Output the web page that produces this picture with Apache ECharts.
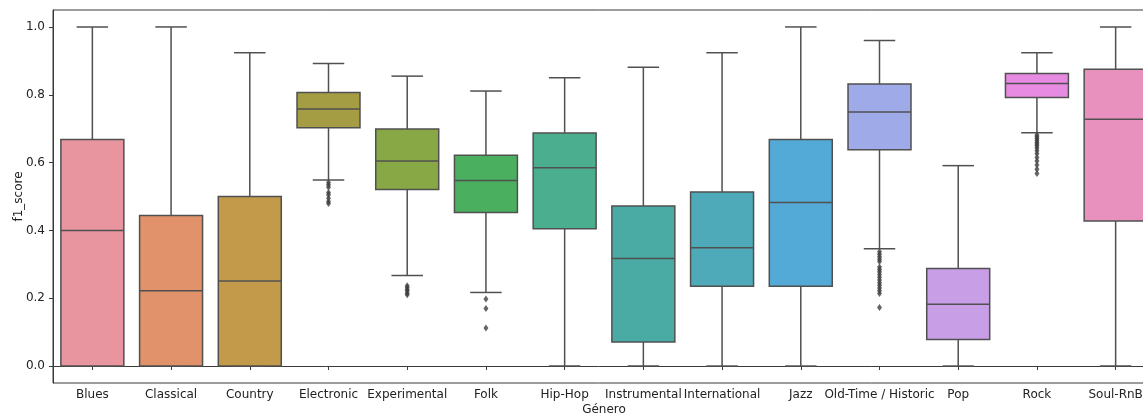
<!DOCTYPE html>
<html>
<head>
<meta charset="utf-8">
<script src="https://cdn.jsdelivr.net/npm/echarts@6/dist/echarts.min.js"></script>
<style>
html,body{margin:0;padding:0;background:#fff;}
#c{width:1143px;height:415px;}
</style>
</head>
<body>
<div id="c"></div>
<script>
const categories = ['Blues','Classical','Country','Electronic','Experimental','Folk','Hip-Hop','Instrumental','International','Jazz','Old-Time / Historic','Pop','Rock','Soul-RnB'];
const whiskerLow  = [0.000, 0.000, 0.000, 0.549, 0.267, 0.217, 0.000, 0.000, 0.000, 0.000, 0.346, 0.000, 0.688, 0.000];
const q1          = [0.000, 0.000, 0.000, 0.703, 0.521, 0.453, 0.405, 0.071, 0.235, 0.235, 0.638, 0.078, 0.792, 0.428];
const medians     = [0.400, 0.222, 0.251, 0.758, 0.605, 0.547, 0.585, 0.317, 0.349, 0.482, 0.749, 0.182, 0.833, 0.728];
const q3          = [0.668, 0.444, 0.500, 0.807, 0.699, 0.622, 0.687, 0.472, 0.513, 0.668, 0.832, 0.288, 0.863, 0.875];
const whiskerHigh = [1.000, 1.000, 0.924, 0.892, 0.855, 0.811, 0.850, 0.881, 0.924, 1.000, 0.960, 0.591, 0.924, 1.000];
const outliers = [
  [],
  [],
  [],
  [0.541, 0.535, 0.527, 0.512, 0.505, 0.495, 0.485, 0.479],
  [0.237, 0.232, 0.226, 0.221, 0.215, 0.210],
  [0.198, 0.170, 0.112],
  [],
  [],
  [],
  [],
  [0.337, 0.330, 0.322, 0.315, 0.308, 0.292, 0.285, 0.278, 0.270, 0.262, 0.254, 0.246, 0.238, 0.230, 0.222, 0.214, 0.173],
  [],
  [0.681, 0.676, 0.671, 0.666, 0.660, 0.655, 0.650, 0.643, 0.635, 0.626, 0.615, 0.605, 0.593, 0.580, 0.568],
  []
];
const yTicks = [0, 0.2, 0.4, 0.6, 0.8, 1.0];

const palette = ['#e9959f','#e1926a','#c29a4a','#a49d43','#88a745','#4aaf5f','#4aae8f','#4aaaa4','#4eaab8','#53aad6','#9faae8','#c89ee6','#e78ae1','#e890be'];
const lineColor = '#505050';

const boxData = categories.map((c, i) => [i, whiskerLow[i], q1[i], medians[i], q3[i], whiskerHigh[i]]);
const outlierData = [];
outliers.forEach((arr, i) => arr.forEach(v => outlierData.push([i, v])));

function renderItem(params, api) {
  const i = api.value(0);
  const band = api.size([1, 0])[0];
  const half = band * 0.4;
  const cap = band * 0.2;
  const x = api.coord([i, 0])[0];
  const yl = api.coord([i, api.value(1)])[1];
  const y1 = api.coord([i, api.value(2)])[1];
  const ym = api.coord([i, api.value(3)])[1];
  const y3 = api.coord([i, api.value(4)])[1];
  const yh = api.coord([i, api.value(5)])[1];
  const ls = {stroke: lineColor, lineWidth: 1.5, fill: null};
  return {
    type: 'group',
    children: [
      {type: 'line', shape: {x1: x, y1: y1, x2: x, y2: yl}, style: ls},
      {type: 'line', shape: {x1: x, y1: y3, x2: x, y2: yh}, style: ls},
      {type: 'line', shape: {x1: x - cap, y1: yl, x2: x + cap, y2: yl}, style: ls},
      {type: 'line', shape: {x1: x - cap, y1: yh, x2: x + cap, y2: yh}, style: ls},
      {type: 'rect', shape: {x: x - half, y: y3, width: 2 * half, height: y1 - y3},
        style: {fill: palette[i], stroke: lineColor, lineWidth: 1.5}},
      {type: 'line', shape: {x1: x - half, y1: ym, x2: x + half, y2: ym}, style: ls}
    ]
  };
}

const chart = echarts.init(document.getElementById('c'), null, {renderer: 'canvas'});
const font = 'DejaVu Sans';
chart.setOption({
  animation: false,
  backgroundColor: '#ffffff',
  grid: {left: 53, right: -12, top: 10, bottom: 32, containLabel: false, outerBoundsMode: 'none',
    show: true, borderColor: '#3a3a3a', borderWidth: 1, backgroundColor: 'transparent'},
  xAxis: {
    type: 'category',
    data: categories,
    name: 'Género',
    nameLocation: 'middle',
    nameGap: 21,
    nameMoveOverlap: false,
    nameTextStyle: {fontFamily: font, fontSize: 12, color: '#222'},
    axisLine: {show: true, lineStyle: {color: '#3a3a3a', width: 1}},
    axisTick: {show: true, alignWithLabel: true, length: 4, lineStyle: {color: '#3a3a3a'}},
    axisLabel: {interval: 0, margin: 6, fontFamily: font, fontSize: 12, color: '#222', hideOverlap: false},
    splitLine: {show: false}
  },
  yAxis: {
    type: 'value',
    min: -0.05,
    max: 1.05,
    name: 'f1_score',
    nameLocation: 'middle',
    nameGap: 28,
    nameRotate: 90,
    nameMoveOverlap: false,
    nameTextStyle: {fontFamily: font, fontSize: 12, color: '#222'},
    axisLine: {show: true, lineStyle: {color: '#3a3a3a', width: 1}},
    axisTick: {show: true, length: 4, customValues: yTicks, lineStyle: {color: '#3a3a3a'}},
    axisLabel: {customValues: yTicks, margin: 8, fontFamily: font, fontSize: 12, color: '#222',
      formatter: v => Number(v).toFixed(1)},
    splitLine: {show: false}
  },
  series: [
    {
      type: 'custom',
      renderItem: renderItem,
      data: boxData,
      encode: {x: 0, y: [1, 2, 3, 4, 5]},
      clip: false,
      z: 2
    },
    {
      type: 'scatter',
      data: outlierData,
      symbol: 'diamond',
      symbolSize: [5, 7],
      itemStyle: {color: '#3f3f3f'},
      z: 3
    }
  ]
});
</script>
</body>
</html>
